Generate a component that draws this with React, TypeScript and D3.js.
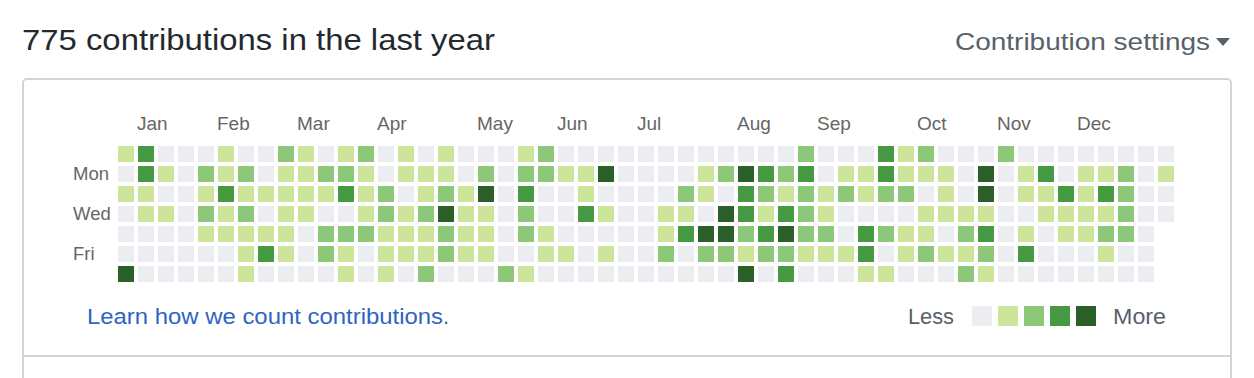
import React from "react";
import * as d3 from "d3";

// ---- Data ----
const title = "775 contributions in the last year";
const monthLabels = ["Jan", "Feb", "Mar", "Apr", "May", "Jun", "Jul", "Aug", "Sep", "Oct", "Nov", "Dec"];
const monthWeeks = [1, 5, 9, 13, 18, 22, 26, 31, 35, 40, 44, 48];
const dayLabels = ["", "Mon", "", "Wed", "", "Fri", ""];

// contribution levels per weekday row (0 = none ... 4 = most), one value per week
const sun = [1,3,0,0,0,1,0,0,2,1,0,1,2,0,1,0,1,0,0,0,1,2,0,0,0,0,0,0,0,0,0,0,0,0,2,0,0,0,3,1,2,0,0,0,2,0,0,0,0,0,0,0,0];
const mon = [0,3,1,0,2,1,2,0,1,1,2,2,1,0,1,1,1,0,2,0,2,2,1,1,4,0,0,0,0,1,2,4,3,2,3,0,1,1,3,1,1,1,0,4,0,1,3,0,1,1,2,0,1];
const tue = [1,1,0,0,1,3,1,1,1,1,1,3,1,2,0,1,2,1,4,0,3,0,0,1,0,0,0,0,2,1,0,3,2,1,2,1,2,1,2,2,0,1,0,4,0,1,1,3,1,3,2,0,0];
const wed = [0,1,1,0,2,1,2,0,1,1,0,0,1,2,1,2,4,1,1,0,2,0,0,3,1,0,0,1,1,0,4,3,1,3,2,1,0,0,0,0,1,1,1,1,0,0,1,1,1,1,2,0,0];
const thu = [0,0,0,0,1,1,1,1,1,0,2,2,2,1,1,1,2,1,1,0,2,1,0,0,0,0,0,1,3,4,4,2,3,4,2,2,0,3,2,1,1,0,2,3,0,1,0,1,1,2,2,0];
const fri = [0,0,0,0,0,0,1,3,1,0,2,1,0,1,1,1,2,1,1,0,0,1,1,0,1,0,0,2,0,2,2,1,2,2,1,1,1,3,0,1,2,1,1,2,0,3,0,0,0,1,0,0];
const sat = [4,0,0,0,0,0,1,0,0,0,0,1,0,1,0,2,0,0,0,2,1,0,0,0,0,0,0,0,0,0,0,4,0,3,0,0,0,1,1,0,0,0,2,1,0,0,0,0,0,0,0,0];
const levelColors = ["#ebedf0", "#cde59a", "#8dc879", "#469a42", "#2b6128"];

const rows = [sun, mon, tue, wed, thu, fri, sat];
const numWeeks = 53;

const FONT = "'Liberation Sans', Arial, Helvetica, sans-serif";

export default function App() {
  const weeks = d3.range(numWeeks);
  const x = d3
    .scaleBand<number>()
    .domain(weeks)
    .range([118, 118 + 20 * numWeeks - 4])
    .paddingInner(0.2)
    .paddingOuter(0);
  const y = d3
    .scaleBand<number>()
    .domain(d3.range(7))
    .range([146, 146 + 20 * 7 - 4])
    .paddingInner(0.2)
    .paddingOuter(0);
  const color = d3.scaleOrdinal<number, string>().domain([0, 1, 2, 3, 4]).range(levelColors);

  const cells: { w: number; d: number; v: number }[] = [];
  rows.forEach((row, d) => row.forEach((v, w) => cells.push({ w, d, v })));

  const legendX = d3
    .scaleBand<number>()
    .domain([0, 1, 2, 3, 4])
    .range([972, 972 + 26 * 5 - 6])
    .paddingInner(6 / 26)
    .paddingOuter(0);

  return (
    <svg
      width={1254}
      height={378}
      style={{ position: "absolute", left: 0, top: 0, display: "block", background: "#fff" }}
      fontFamily={FONT}
    >
      <text x={22} y={50} fontSize={30} fill="#24292e" textLength={473} lengthAdjust="spacingAndGlyphs">
        {title}
      </text>
      <text x={955} y={50} fontSize={24} fill="#586069" textLength={255} lengthAdjust="spacingAndGlyphs">
        Contribution settings
      </text>
      <path d="M1216,38 L1230,38 L1223,46 Z" fill="#586069" />

      <rect x={23} y={79} width={1208} height={340} rx={4} fill="none" stroke="#d1d5da" strokeWidth={2} />
      <line x1={24} x2={1230} y1={356} y2={356} stroke="#d1d5da" strokeWidth={2} />

      {monthLabels.map((m, i) => (
        <text key={m} x={(x(monthWeeks[i]) ?? 0) - 1} y={130} fontSize={19} fill="#666">
          {m}
        </text>
      ))}
      {dayLabels.map((dl, i) =>
        dl ? (
          <text key={i} x={73} y={(y(i) ?? 0) + 14} fontSize={18.5} fill="#666">
            {dl}
          </text>
        ) : null
      )}

      {cells.map((c) => (
        <rect
          key={`${c.w}-${c.d}`}
          x={x(c.w)}
          y={y(c.d)}
          width={x.bandwidth()}
          height={y.bandwidth()}
          fill={color(c.v)}
        />
      ))}

      <text x={87} y={324} fontSize={22} fill="#2f64c4" textLength={356} lengthAdjust="spacingAndGlyphs">
        Learn how we count contributions
      </text>
      <text x={443} y={324} fontSize={22} fill="#586069">.</text>

      <text x={908} y={324} fontSize={22} fill="#586069" textLength={46} lengthAdjust="spacingAndGlyphs">
        Less
      </text>
      {[0, 1, 2, 3, 4].map((l) => (
        <rect
          key={l}
          x={legendX(l)}
          y={306}
          width={legendX.bandwidth()}
          height={20}
          fill={color(l)}
        />
      ))}
      <text x={1113} y={324} fontSize={22} fill="#586069" textLength={53} lengthAdjust="spacingAndGlyphs">
        More
      </text>
    </svg>
  );
}
